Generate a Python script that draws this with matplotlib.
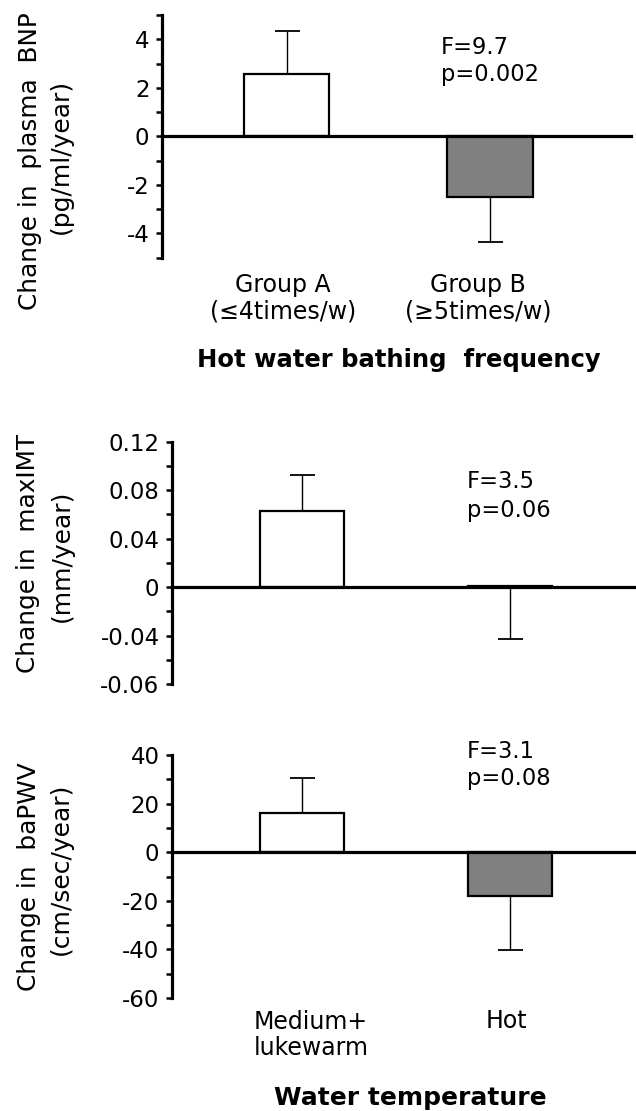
import matplotlib
matplotlib.use("Agg")
import matplotlib.pyplot as plt

W, H = 636, 1111

# ---------------- data ----------------
bnp_values = [2.55, -2.5]
bnp_err_low = [0.0, 1.87]
bnp_err_up = [1.8, 0.0]
bnp_ticks = [4, 2, 0, -2, -4]
bnp_ticklabels = ["4", "2", "0", "-2", "-4"]
bnp_minor = [5, 3, 1, -1, -3, -5]
bnp_groups = ["Group A\n(≤4times/w)", "Group B\n(≥5times/w)"]

imt_values = [0.0625, 0.001]
imt_err_low = [0.0, 0.0438]
imt_err_up = [0.0304, 0.0]
imt_ticks = [0.12, 0.08, 0.04, 0, -0.04, -0.08]
imt_ticklabels = ["0.12", "0.08", "0.04", "0", "-0.04", "-0.06"]
imt_minor = [0.10, 0.06, 0.02, -0.02, -0.06]

pwv_values = [16.3, -18.1]
pwv_err_low = [0.0, 22.2]
pwv_err_up = [14.3, 0.0]
pwv_ticks = [40, 20, 0, -20, -40, -60]
pwv_ticklabels = ["40", "20", "0", "-20", "-40", "-60"]
pwv_minor = [30, 10, -10, -30, -50]
temp_groups = ["Medium+\nlukewarm", "Hot"]

bar_colors = ["white", "#808080"]

plt.rcParams['font.family'] = ['DejaVu Sans']

fig = plt.figure(figsize=(W / 100, H / 100), dpi=100)


def px_axes(x0, x1, ytop, ybot):
    return fig.add_axes([x0 / W, 1 - ybot / H, (x1 - x0) / W, (ybot - ytop) / H])


def fx(x):
    return x / W


def fy(y):
    return 1 - y / H


def setup(ax, values, lo, up, ticks, labels, minor, ylim, xlim, width):
    x = [0, 1]
    ax.bar(x, values, width=width, color=bar_colors, edgecolor="black",
           linewidth=1.6, zorder=3)
    ax.errorbar(x, values, yerr=[lo, up], fmt="none", ecolor="black",
                elinewidth=1.0, capsize=9, capthick=1.3, zorder=2)
    ax.set_ylim(*ylim)
    ax.set_xlim(*xlim)
    ax.spines["top"].set_visible(False)
    ax.spines["right"].set_visible(False)
    ax.spines["bottom"].set_position(("data", 0))
    ax.spines["bottom"].set_linewidth(2.3)
    ax.spines["bottom"].set_zorder(4)
    ax.spines["left"].set_linewidth(2.3)
    ax.set_xticks([])
    ax.set_yticks(ticks)
    ax.set_yticklabels(labels)
    ax.set_yticks(minor, minor=True)
    ax.tick_params(axis="y", which="both", direction="out", length=4,
                   width=1.8, labelsize=16.5, pad=5, colors="black")
    ax.patch.set_alpha(0)


# Panel 1 : BNP
ax1 = px_axes(162, 631, 15, 257.7)
setup(ax1, bnp_values, bnp_err_low, bnp_err_up, bnp_ticks, bnp_ticklabels,
      bnp_minor, (-5, 5), (-0.612, 1.693), 0.418)
fig.text(fx(30), fy(161), "Change in  plasma  BNP", rotation=90,
         ha="center", va="center", fontsize=17.8)
fig.text(fx(61), fy(156), "(pg/ml/year)", rotation=90,
         ha="center", va="center", fontsize=18)
fig.text(fx(441), fy(48), "F=9.7", ha="left", va="center", fontsize=16.3)
fig.text(fx(441), fy(75), "p=0.002", ha="left", va="center", fontsize=16.3)
for cx, lab in zip([283, 478], bnp_groups):
    fig.text(fx(cx), fy(298), lab, ha="center", va="center", fontsize=17,
             linespacing=1.15)
fig.text(fx(399), fy(360), "Hot water bathing  frequency", ha="center",
         va="center", fontsize=17.5, fontweight="bold")

# Panel 2 : maxIMT
ax2 = px_axes(172, 636, 441.7, 684)
setup(ax2, imt_values, imt_err_low, imt_err_up, imt_ticks, imt_ticklabels,
      imt_minor, (-0.08, 0.12), (-0.625, 1.606), 0.40)
fig.text(fx(28), fy(553), "Change in  maxIMT", rotation=90,
         ha="center", va="center", fontsize=17.8)
fig.text(fx(62), fy(556), "(mm/year)", rotation=90,
         ha="center", va="center", fontsize=18)
fig.text(fx(467), fy(482), "F=3.5", ha="left", va="center", fontsize=16.3)
fig.text(fx(467), fy(510), "p=0.06", ha="left", va="center", fontsize=16.3)

# Panel 3 : baPWV
ax3 = px_axes(172, 636, 755, 998)
setup(ax3, pwv_values, pwv_err_low, pwv_err_up, pwv_ticks, pwv_ticklabels,
      pwv_minor, (-60, 40), (-0.625, 1.606), 0.40)
fig.text(fx(29), fy(877), "Change in  baPWV", rotation=90,
         ha="center", va="center", fontsize=17.8)
fig.text(fx(61), fy(869), "(cm/sec/year)", rotation=90,
         ha="center", va="center", fontsize=18)
fig.text(fx(467), fy(752), "F=3.1", ha="left", va="center", fontsize=16.3)
fig.text(fx(467), fy(778), "p=0.08", ha="left", va="center", fontsize=16.3)
fig.text(fx(254), fy(1035), temp_groups[0], ha="left", va="center",
         fontsize=17, linespacing=1.15)
fig.text(fx(506), fy(1021), temp_groups[1], ha="center", va="center",
         fontsize=17)
fig.text(fx(410), fy(1098), "Water temperature", ha="center", va="center",
         fontsize=18, fontweight="bold")

fig.savefig("out.png", dpi=100)
